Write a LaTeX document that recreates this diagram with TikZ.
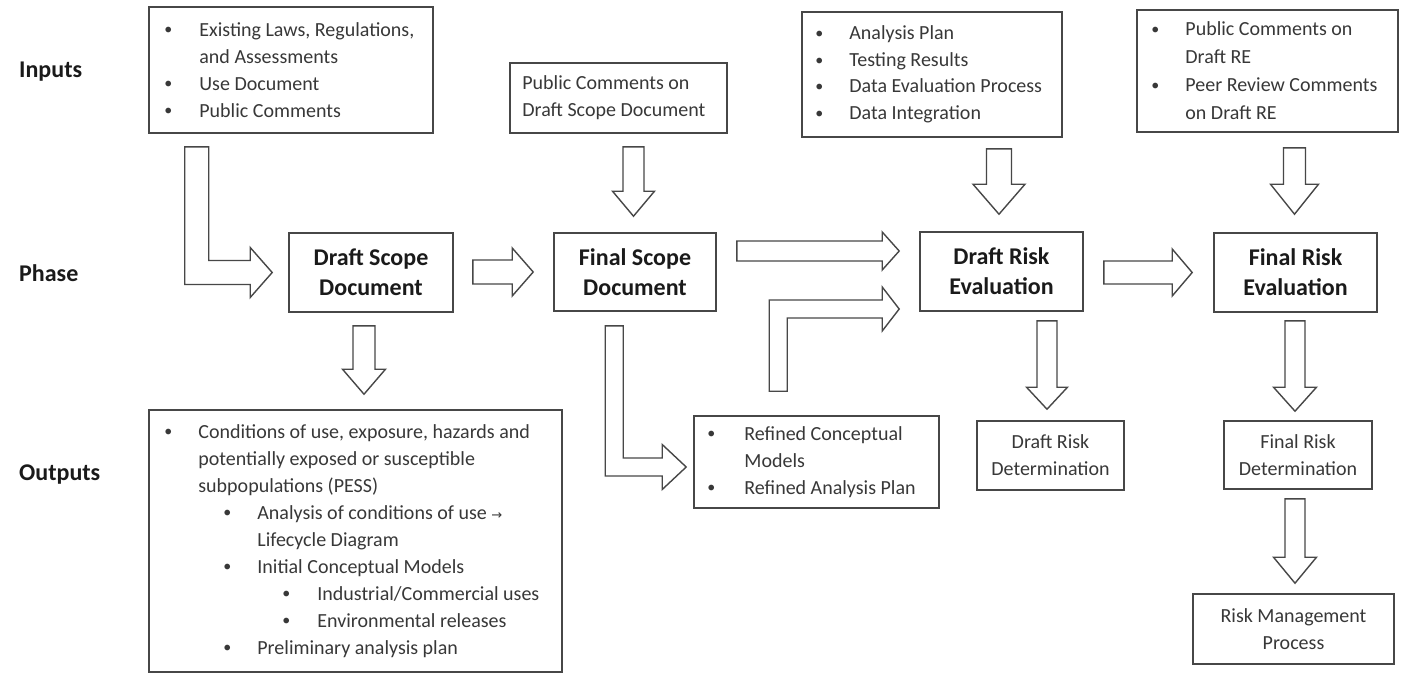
\documentclass[tikz,border=0pt]{standalone}
\usepackage{fontspec}
\setmainfont{Carlito}
\newfontfamily\symfont{DejaVu Sans}
\usetikzlibrary{calc}

\definecolor{linegray}{HTML}{474747}
\definecolor{textgray}{HTML}{383838}
\definecolor{darktext}{HTML}{1A1A1A}

% bullet in a column of the given width, and a blank indent
\newcommand\bul[1]{\makebox[#1pt][l]{\raisebox{0.07em}{\scalebox{0.8}{\textbullet}}}}
\newcommand\ind[1]{\hspace*{#1pt}}

% hollow block arrows: #1 tail, #2 tip, #3 shaft half width, #4 head half width, #5 head length
\newcommand\arrR[5]{\draw[blockarrow] let \p1=(#1),\p2=(#2) in
  (\x1,\y2+#3pt) -- (\x2-#5pt,\y2+#3pt) -- (\x2-#5pt,\y2+#4pt) -- (\x2,\y2)
  -- (\x2-#5pt,\y2-#4pt) -- (\x2-#5pt,\y2-#3pt) -- (\x1,\y2-#3pt) -- cycle;}
\newcommand\arrD[5]{\draw[blockarrow] let \p1=(#1),\p2=(#2) in
  (\x2-#3pt,\y1) -- (\x2+#3pt,\y1) -- (\x2+#3pt,\y2+#5pt) -- (\x2+#4pt,\y2+#5pt)
  -- (\x2,\y2) -- (\x2-#4pt,\y2+#5pt) -- (\x2-#3pt,\y2+#5pt) -- cycle;}
% down, then right
\newcommand\arrDR[5]{\draw[blockarrow] let \p1=(#1),\p2=(#2) in
  (\x1-#3pt,\y1) -- (\x1+#3pt,\y1) -- (\x1+#3pt,\y2+#3pt) -- (\x2-#5pt,\y2+#3pt)
  -- (\x2-#5pt,\y2+#4pt) -- (\x2,\y2) -- (\x2-#5pt,\y2-#4pt) -- (\x2-#5pt,\y2-#3pt)
  -- (\x1-#3pt,\y2-#3pt) -- cycle;}
% up, then right
\newcommand\arrUR[5]{\draw[blockarrow] let \p1=(#1),\p2=(#2) in
  (\x1-#3pt,\y1) -- (\x1-#3pt,\y2+#3pt) -- (\x2-#5pt,\y2+#3pt) -- (\x2-#5pt,\y2+#4pt)
  -- (\x2,\y2) -- (\x2-#5pt,\y2-#4pt) -- (\x2-#5pt,\y2-#3pt) -- (\x1+#3pt,\y2-#3pt)
  -- (\x1+#3pt,\y1) -- cycle;}

\tikzset{
  box/.style={draw=linegray, line width=1.6pt, fill=white, inner sep=0pt},
  txt/.style={align=left, inner sep=0pt, text=textgray, font=\fontsize{20}{27}\selectfont},
  ctxt/.style={align=center, inner sep=0pt, text=textgray, font=\fontsize{20}{27}\selectfont},
  phase/.style={align=center, text=darktext, font=\bfseries\fontsize{24}{30}\selectfont},
  lbl/.style={anchor=west, inner sep=0pt, text=darktext, font=\bfseries\fontsize{24}{29}\selectfont},
  blockarrow/.style={draw=linegray, line width=1.4pt, fill=white, line join=miter}
}

\begin{document}
\begin{tikzpicture}[x=1pt,y=-1pt]
\useasboundingbox (0,0) rectangle (1409,678);
\fill[white] (0,0) rectangle (1409,678);

% row labels
\node[lbl] (linputs) at (19,72) {Inputs};
\node[lbl] (lphase) at (19,273) {Phase};
\node[lbl] (loutputs) at (19,475) {Outputs};

% inputs
\node[box, minimum width=284, minimum height=126] (in1) at (291,70) {};
\node[txt, anchor=west] (in1t) at ($(in1.west)+(16,0)$)
  {\bul{35}Existing Laws, Regulations,\\\ind{35}and Assessments\\\bul{35}Use Document\\\bul{35}Public Comments};

\node[box, minimum width=217, minimum height=70] (in2) at (618.5,98) {};
\node[txt, anchor=west] (in2t) at ($(in2.west)+(13,0)$)
  {Public Comments on\\Draft Scope Document};

\node[box, minimum width=260, minimum height=125] (in3) at (932,74.5) {};
\node[txt, anchor=west, font=\fontsize{20}{26.5}\selectfont] (in3t) at ($(in3.west)+(14,0)$)
  {\bul{34}Analysis Plan\\\bul{34}Testing Results\\\bul{34}Data Evaluation\ Process\\\bul{34}Data Integration};

\node[box, minimum width=261, minimum height=122] (in4) at (1267.5,71) {};
\node[txt, anchor=west, font=\fontsize{20}{28}\selectfont] (in4t) at ($(in4.west)+(15,0)$)
  {\bul{34}Public Comments on\\\ind{34}Draft RE\\\bul{34}Peer Review Comments\\\ind{34}on Draft RE};

% phases
\node[box, phase, minimum width=164, minimum height=79] (ds) at (371,272.5) {Draft Scope\\Document};
\node[box, phase, minimum width=162, minimum height=78] (fs) at (635,272) {Final Scope\\Document};
\node[box, phase, minimum width=163, minimum height=79] (dr) at (1001.5,271.5) {Draft Risk\\Evaluation};
\node[box, phase, minimum width=163, minimum height=79] (fr) at (1295.5,272.5) {Final Risk\\Evaluation};

% outputs
\node[box, minimum width=413, minimum height=262] (out1) at (355.5,541) {};
\node[txt, anchor=west] (out1t) at ($(out1.west)+(16,0)$)
  {\bul{34}Conditions of use, exposure, hazards and\\
   \ind{34}potentially exposed or susceptible\\
   \ind{34}subpopulations (PESS)\\
   \ind{59}\bul{34}Analysis of conditions of use {\symfont\fontsize{13}{13}\selectfont →}\\
   \ind{59}\ind{34}Lifecycle Diagram\\
   \ind{59}\bul{34}Initial Conceptual Models\\
   \ind{118}\bul{35}Industrial/Commercial uses\\
   \ind{118}\bul{35}Environmental releases\\
   \ind{59}\bul{34}Preliminary analysis plan};

\node[box, minimum width=245, minimum height=92] (out2) at (816.5,462) {};
\node[txt, anchor=west] (out2t) at ($(out2.west)+(14,0)$)
  {\bul{37}Refined Conceptual\\\ind{37}Models\\\bul{37}Refined Analysis Plan};

\node[box, ctxt, minimum width=147, minimum height=69] (drd) at (1050.5,455.5) {Draft Risk\\Determination};
\node[box, ctxt, minimum width=148, minimum height=68] (frd) at (1298,455) {Final Risk\\Determination};
\node[box, ctxt, minimum width=201, minimum height=70] (rmp) at (1293.5,629) {Risk Management\\Process};

% block arrows
\arrDR{$(in1.south west)+(48.5,13)$}{$(ds.west)+(-16,0)$}{12}{25}{22}
\arrR{$(ds.east)+(19,0)$}{$(fs.west)+(-20,0)$}{12}{24}{21}
\arrD{$(in2.south)+(0,13)$}{$(fs.north)+(-1.5,-16)$}{10.5}{21}{25}
\arrR{$(fs.east)+(20,-21)$}{$(dr.west)+(-20,-20.5)$}{10}{19}{17}
\arrUR{$(out2.north west)+(85,-24)$}{$(dr.west)+(-20,37.5)$}{9}{22}{17}
\arrD{$(in3.south)+(0,11)$}{$(dr.north)+(-2.5,-17)$}{12.5}{26}{30}
\arrR{$(dr.east)+(20,0)$}{$(fr.west)+(-21,0)$}{11.5}{23.5}{20}
\arrD{$(in4.south)+(0,15)$}{$(fr.north)+(-1,-18)$}{11}{24}{30}
\arrD{$(ds.south)+(0,13)$}{$(out1.north)+(8.5,-15)$}{11}{21.5}{25}
\arrDR{$(fs.south west)+(61,14)$}{$(out2.west)+(-7,5)$}{9}{22.5}{24}
\arrD{$(dr.south)+(45.5,9)$}{$(drd.north)+(-3.5,-11)$}{10}{20.5}{22}
\arrD{$(fr.south)+(0,8)$}{$(frd.north)+(-3,-9)$}{10}{21.5}{24}
\arrD{$(frd.south)+(0,9)$}{$(rmp.north)+(1.5,-10)$}{10}{21.5}{26}
\end{tikzpicture}
\end{document}
